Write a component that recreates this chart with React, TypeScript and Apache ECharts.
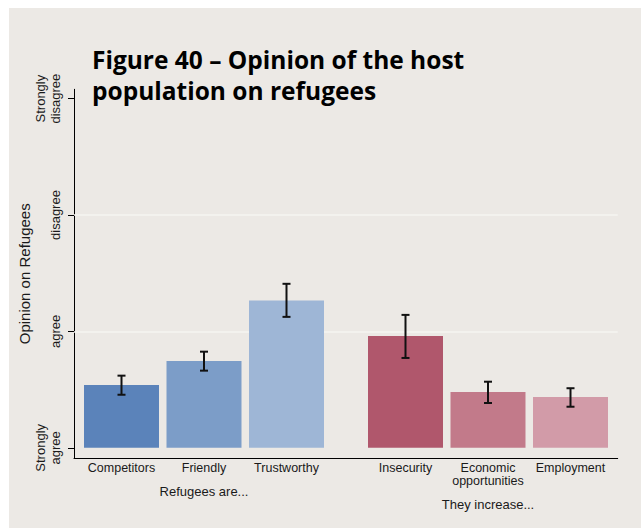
import React, { useEffect, useRef } from "react";
import * as echarts from "echarts";

// ---- data ----
const yTickValues = [1, 2, 3, 4];
const yTickLabels = ["Strongly\nagree", "agree", "disagree", "Strongly\ndisagree"];

const groupAName = "Refugees are...";
const categoriesA = ["Competitors", "Friendly", "Trustworthy"];
const valuesA = [1.54, 1.745, 2.265];
const lowA = [1.456, 1.663, 2.125];
const highA = [1.62, 1.826, 2.409];
const colorsA = ["#5B83BA", "#7C9DC8", "#9EB6D6"];

const groupBName = "They increase...";
const categoriesB = ["Insecurity", "Economic\nopportunities", "Employment"];
const valuesB = [1.961, 1.479, 1.436];
const lowB = [1.772, 1.385, 1.353];
const highB = [2.142, 1.568, 1.512];
const colorsB = ["#B0576C", "#C27A8A", "#D29BA8"];

const titleLines = ["Figure 40 – Opinion of the host", "population on refugees"];
const yAxisName = "Opinion on Refugees";

const FONT = "'Liberation Sans', Arial, Helvetica, sans-serif";
const TEXT = "#1a1a1a";
const Y_MIN = 0.91;
const Y_MAX = 4.08;
const BASE = 1;

function barSeries(gridIdx: number, values: number[], colors: string[]) {
  return {
    type: "custom",
    xAxisIndex: gridIdx,
    yAxisIndex: gridIdx,
    silent: true,
    z: 3,
    data: values.map((v, i) => [i, v]),
    encode: { x: 0, y: 1 },
    renderItem: (params: any, api: any) => {
      const idx = api.value(0);
      const top = api.coord([idx, api.value(1)]);
      const base = api.coord([idx, BASE]);
      const w = api.size([1, 0])[0] * 0.909;
      return {
        type: "rect",
        shape: { x: top[0] - w / 2, y: top[1], width: w, height: base[1] - top[1] },
        style: { fill: colors[params.dataIndex] },
      };
    },
  };
}

function errSeries(gridIdx: number, lows: number[], highs: number[]) {
  return {
    type: "custom",
    xAxisIndex: gridIdx,
    yAxisIndex: gridIdx,
    silent: true,
    z: 4,
    data: lows.map((lo, i) => [i, lo, highs[i]]),
    encode: { x: 0, y: [1, 2] },
    renderItem: (params: any, api: any) => {
      const idx = api.value(0);
      const lo = api.coord([idx, api.value(1)]);
      const hi = api.coord([idx, api.value(2)]);
      const cw = 4;
      const st = { stroke: "#111", lineWidth: 2 };
      return {
        type: "group",
        children: [
          { type: "line", shape: { x1: lo[0], y1: lo[1], x2: hi[0], y2: hi[1] }, style: st },
          { type: "line", shape: { x1: lo[0] - cw, y1: lo[1], x2: lo[0] + cw, y2: lo[1] }, style: st },
          { type: "line", shape: { x1: hi[0] - cw, y1: hi[1], x2: hi[0] + cw, y2: hi[1] }, style: st },
        ],
      };
    },
  };
}

export default function App() {
  const ref = useRef<HTMLDivElement>(null);
  useEffect(() => {
    if (!ref.current) return;
    const chart = echarts.init(ref.current, undefined, { renderer: "svg" });
    const top = 89.3;
    const bottom = 528 - 458.3;
    const hiddenY = (gi: number) => ({
      type: "value",
      gridIndex: gi,
      min: Y_MIN,
      max: Y_MAX,
      show: false,
    });
    const catX = (gi: number, cats: string[], name: string, gap: number) => ({
      type: "category",
      gridIndex: gi,
      data: cats,
      axisLine: { show: false },
      axisTick: { show: false },
      splitLine: { show: false },
      axisLabel: {
        show: true,
        interval: 0,
        margin: 3,
        fontFamily: FONT,
        fontSize: 12.5,
        lineHeight: 13,
        color: TEXT,
      },
      name,
      nameLocation: "middle",
      nameGap: gap,
      nameMoveOverlap: false,
      nameTextStyle: { fontFamily: FONT, fontSize: 13, color: TEXT },
    });
    chart.setOption({
      animation: false,
      backgroundColor: "transparent",
      grid: [
        { left: 74, right: 641 - 617.7, top, bottom },
        { left: 80.25, width: 247.5, top, bottom },
        { left: 364.25, width: 247.5, top, bottom },
      ],
      xAxis: [
        {
          type: "value",
          gridIndex: 0,
          min: 0,
          max: 1,
          axisLine: { show: true, onZero: false, lineStyle: { color: "#000", width: 1 } },
          axisTick: { show: false },
          axisLabel: { show: false },
          splitLine: { show: false },
        },
        catX(1, categoriesA, groupAName, 27),
        catX(2, categoriesB, groupBName, 40),
      ],
      yAxis: [
        {
          type: "value",
          gridIndex: 0,
          min: Y_MIN,
          max: Y_MAX,
          axisLine: { show: true, lineStyle: { color: "#000", width: 1 } },
          axisTick: {
            show: true,
            length: 6,
            customValues: yTickValues,
            lineStyle: { color: "#000", width: 1 },
          },
          axisLabel: {
            show: true,
            rotate: 90,
            margin: 11,
            customValues: yTickValues,
            fontFamily: FONT,
            fontSize: 13,
            lineHeight: 15,
            color: TEXT,
            formatter: (v: number) => {
              const i = yTickValues.indexOf(Math.round(v));
              return i >= 0 ? yTickLabels[i] : "";
            },
          },
          splitLine: { show: false },
          name: yAxisName,
          nameLocation: "middle",
          nameGap: 42,
          nameMoveOverlap: false,
          nameTextStyle: { fontFamily: FONT, fontSize: 15, color: TEXT },
        },
        hiddenY(1),
        hiddenY(2),
      ],
      graphic: [
        {
          type: "text",
          left: 92,
          top: 44,
          style: {
            text: titleLines.join("\n"),
            font: "bold 24.5px 'Open Sans', 'Noto Sans', sans-serif",
            lineHeight: 31,
            fill: "#000",
          },
        },
      ],
      series: [
        {
          type: "line",
          xAxisIndex: 0,
          yAxisIndex: 0,
          data: [],
          silent: true,
          z: 1,
          markLine: {
            silent: true,
            z: 1,
            symbol: "none",
            label: { show: false },
            lineStyle: { color: "#F6F4F1", width: 1.5, type: "solid" },
            data: [{ yAxis: 2 }, { yAxis: 3 }],
          },
        },
        barSeries(1, valuesA, colorsA),
        errSeries(1, lowA, highA),
        barSeries(2, valuesB, colorsB),
        errSeries(2, lowB, highB),
      ],
    });
    return () => chart.dispose();
  }, []);
  return (
    <div style={{ position: "fixed", left: 0, top: 0, width: 641, height: 528, background: "#fff" }}>
      <div style={{ position: "absolute", left: 9, top: 8, right: 0, bottom: 0, background: "#ECE9E5" }} />
      <div ref={ref} style={{ position: "absolute", left: 0, top: 0, width: 641, height: 528 }} />
    </div>
  );
}
